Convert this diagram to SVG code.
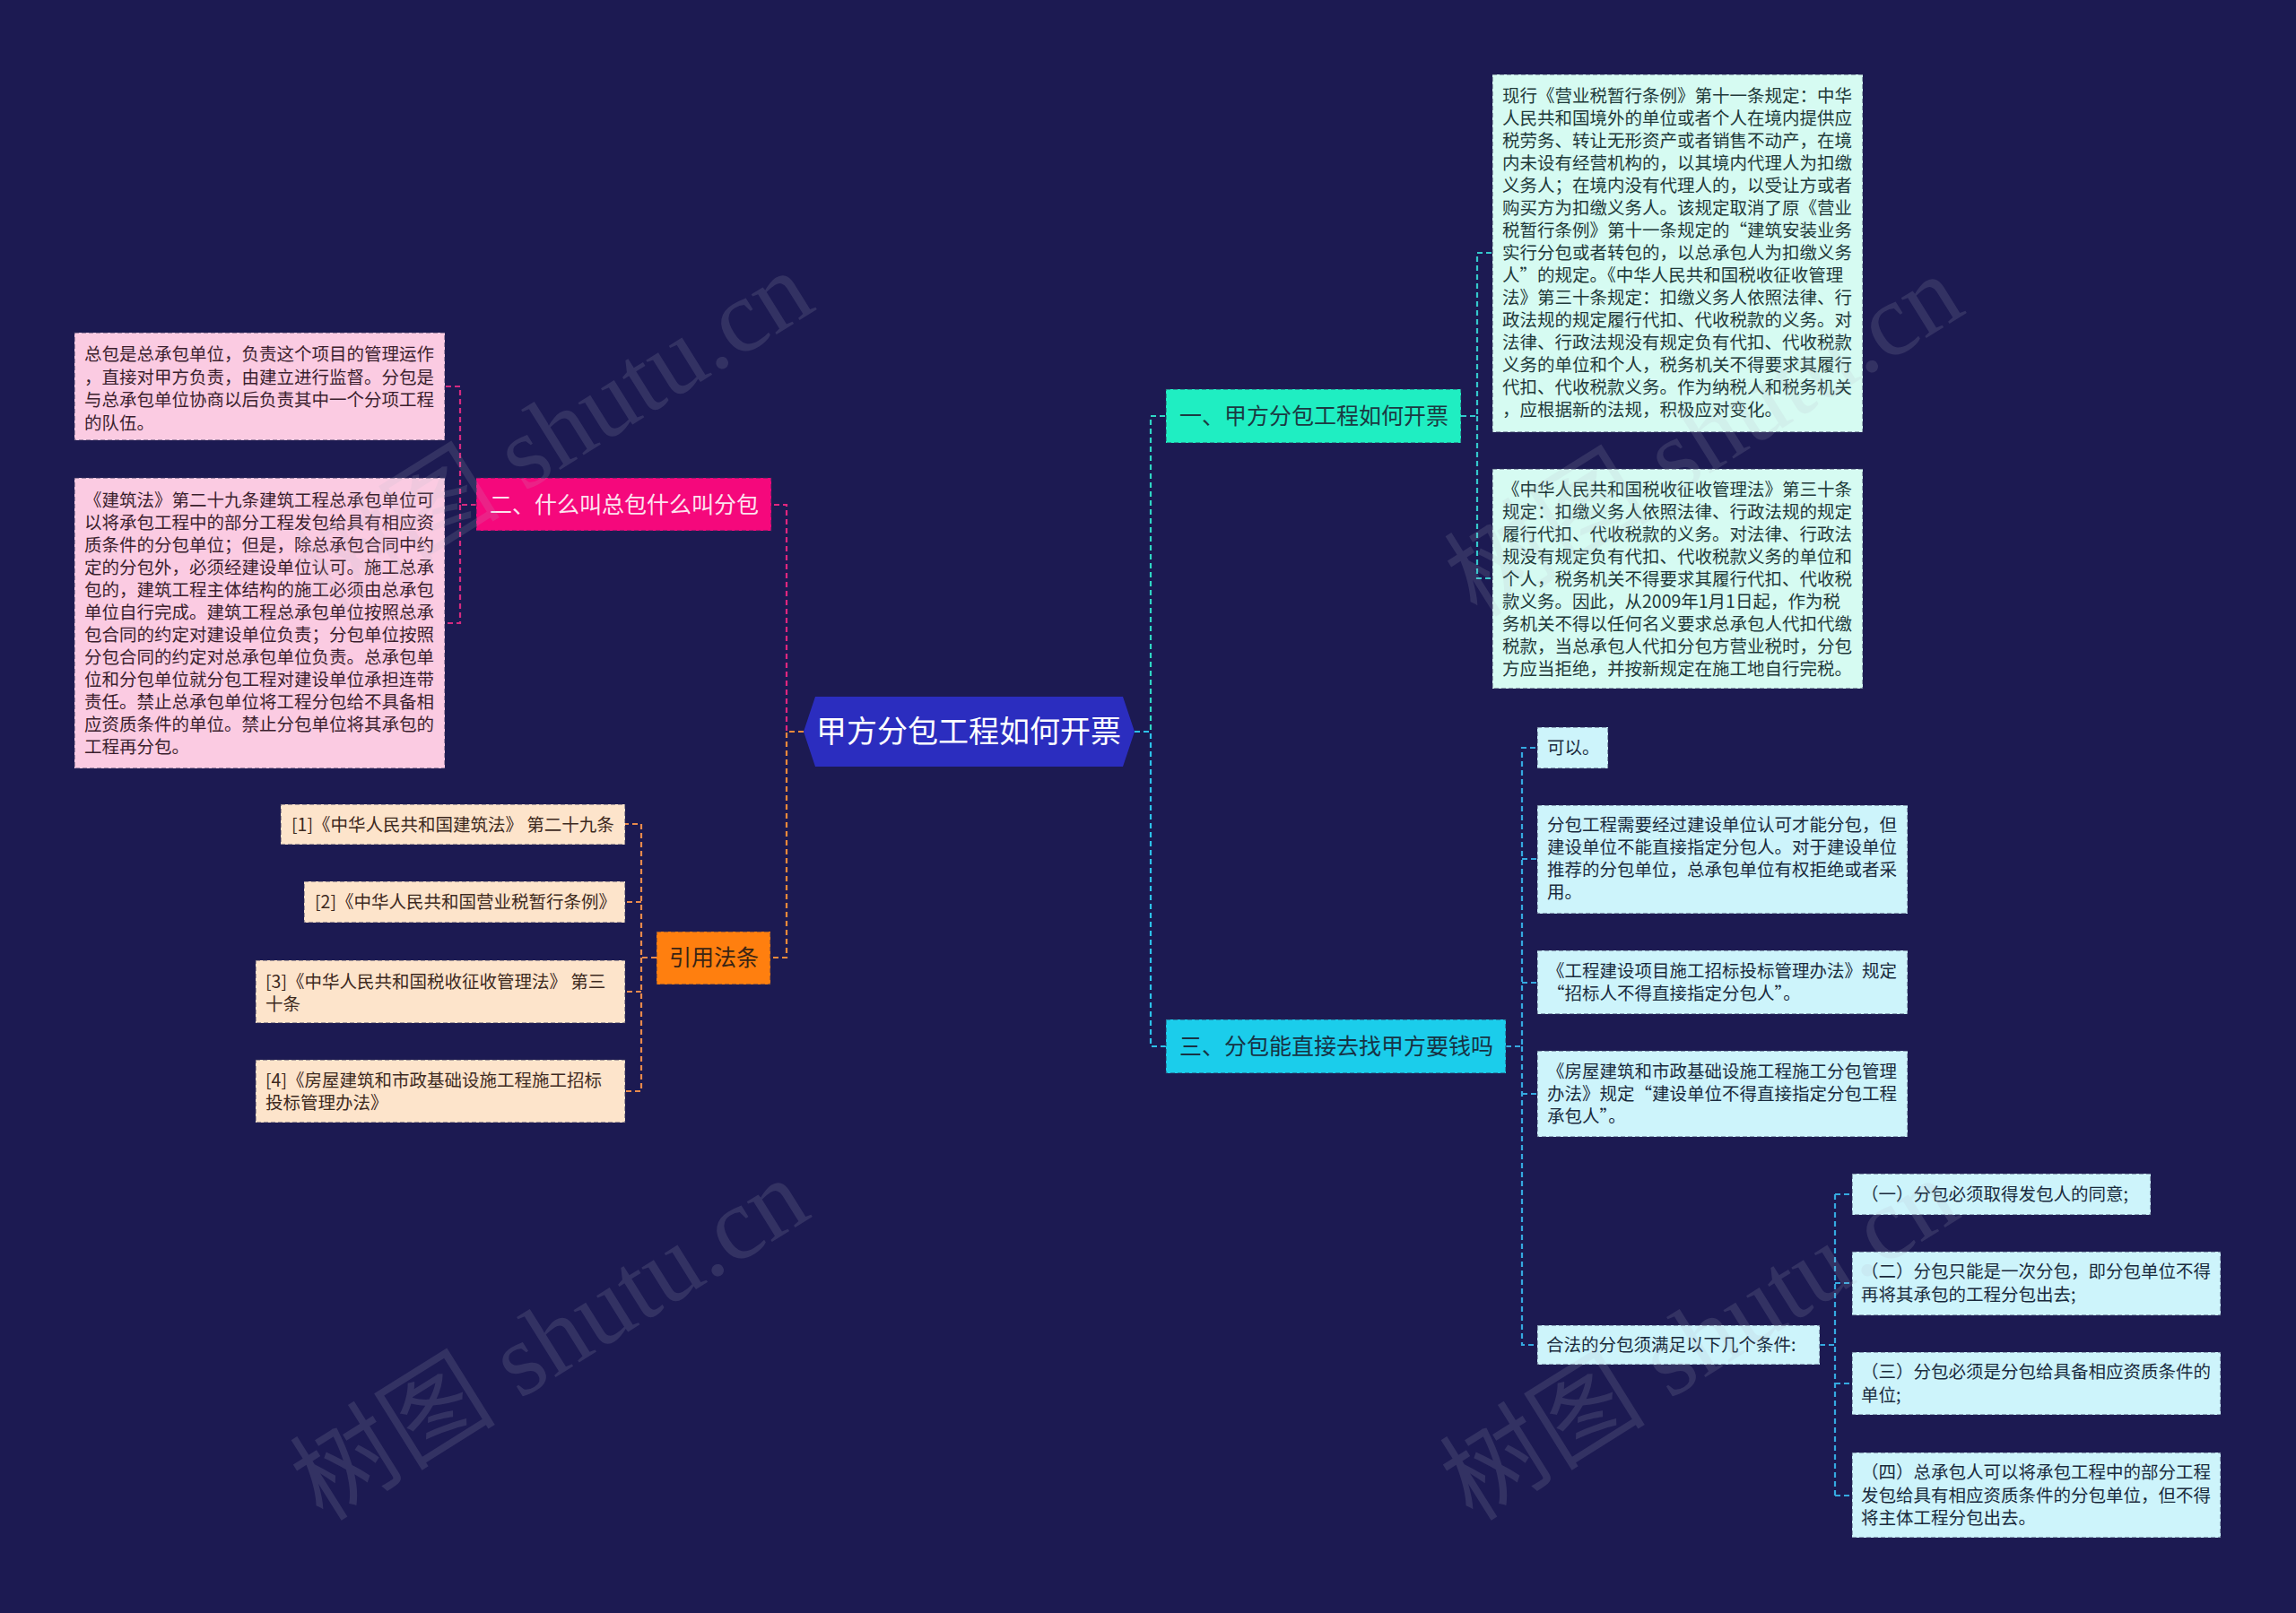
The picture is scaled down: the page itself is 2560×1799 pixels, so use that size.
<svg xmlns="http://www.w3.org/2000/svg" width="2560" height="1799" viewBox="0 0 2560 1799">
<style>
text{font-family:"Noto Sans CJK SC","Noto Sans",sans-serif;}
.leaf{font-size:19.5px;}
.br{font-size:25px;text-anchor:middle;}
.bx{stroke:#2a2a55;stroke-opacity:.55;stroke-width:1.5;stroke-dasharray:5 3;}
.c{fill:none;stroke-width:2.2;stroke-dasharray:6 4;}
.wm{font-family:"Liberation Serif","Noto Sans CJK SC",serif;font-size:115px;fill:#b8b8c8;opacity:.15;}
</style>
<rect width="2560" height="1799" fill="#1c1a52"/>
<g id="connectors">
<path class="c" stroke="#2fd6c4" d="M1265,816 H1283 V464 H1300"/>
<path class="c" stroke="#2cc2ea" d="M1265,816 H1283 V1167 H1300"/>
<path class="c" stroke="#34c8cc" d="M1629,464 H1647 V282 H1664 M1647,464 V645 H1664"/>
<path class="c" stroke="#35a9e0" d="M1679,1167 H1697 V834 H1714 M1697,958 H1714 M1697,1096 H1714 M1697,1220 H1714 M1697,1167 V1500 H1714"/>
<path class="c" stroke="#35a9e0" d="M2029,1500 H2046 M2046,1332 V1668 M2046,1332 H2065 M2046,1431 H2065 M2046,1543 H2065 M2046,1668 H2065"/>
<path class="c" stroke="#e0267f" d="M896,816 H877 V563 H860"/>
<path class="c" stroke="#f08a3a" d="M896,816 H877 V1068 H859"/>
<path class="c" stroke="#d42a80" d="M531,563 H513 V431 H496 M513,563 V695 H496"/>
<path class="c" stroke="#e88a4c" d="M732,1068 H715 V919 H697 M715,1006 H697 M715,1106 H697 M715,1068 V1217 H697"/>
</g>
<g id="root">
<polygon points="896,816 909,777 1252,777 1265,816 1252,855 909,855" fill="#2b2dbf"/>
<text x="1080" y="828" font-size="34" fill="#ffffff" text-anchor="middle">甲方分包工程如何开票</text>
</g>
<g id="branch1">
<rect class="bx" x="1300" y="434" width="329" height="60" fill="#1feec2"/>
<text class="br" x="1465" y="473" fill="#1b3a42">一、甲方分包工程如何开票</text>
</g>
<g id="branch3">
<rect class="bx" x="1300" y="1137" width="379" height="60" fill="#1bcdeb"/>
<text class="br" x="1490" y="1176" fill="#173244">三、分包能直接去找甲方要钱吗</text>
</g>
<g id="branch2">
<rect class="bx" x="531" y="533" width="329" height="59" fill="#f5087c"/>
<text class="br" x="696" y="572" fill="#fde2ef">二、什么叫总包什么叫分包</text>
</g>
<g id="branch4">
<rect class="bx" x="732" y="1039" width="127" height="59" fill="#ff7f0f"/>
<text class="br" x="796" y="1077" fill="#3a2414">引用法条</text>
</g>
<g id="leaf-a">
<rect class="bx" x="1664" y="83" width="413" height="399" fill="#d6fbf2"/>
<text class="leaf" fill="#1f3a3a">
<tspan x="1675" y="114">现行《营业税暂行条例》第十一条规定：中华</tspan>
<tspan x="1675" y="139">人民共和国境外的单位或者个人在境内提供应</tspan>
<tspan x="1675" y="164">税劳务、转让无形资产或者销售不动产，在境</tspan>
<tspan x="1675" y="189">内未设有经营机构的，以其境内代理人为扣缴</tspan>
<tspan x="1675" y="214">义务人；在境内没有代理人的，以受让方或者</tspan>
<tspan x="1675" y="239">购买方为扣缴义务人。该规定取消了原《营业</tspan>
<tspan x="1675" y="264">税暂行条例》第十一条规定的“建筑安装业务</tspan>
<tspan x="1675" y="289">实行分包或者转包的，以总承包人为扣缴义务</tspan>
<tspan x="1675" y="314">人”的规定。《中华人民共和国税收征收管理</tspan>
<tspan x="1675" y="339">法》第三十条规定：扣缴义务人依照法律、行</tspan>
<tspan x="1675" y="364">政法规的规定履行代扣、代收税款的义务。对</tspan>
<tspan x="1675" y="389">法律、行政法规没有规定负有代扣、代收税款</tspan>
<tspan x="1675" y="414">义务的单位和个人，税务机关不得要求其履行</tspan>
<tspan x="1675" y="439">代扣、代收税款义务。作为纳税人和税务机关</tspan>
<tspan x="1675" y="464">，应根据新的法规，积极应对变化。</tspan>
</text>
</g>
<g id="leaf-b">
<rect class="bx" x="1664" y="523" width="413" height="245" fill="#d6fbf2"/>
<text class="leaf" fill="#1f3a3a">
<tspan x="1675" y="553">《中华人民共和国税收征收管理法》第三十条</tspan>
<tspan x="1675" y="578">规定：扣缴义务人依照法律、行政法规的规定</tspan>
<tspan x="1675" y="603">履行代扣、代收税款的义务。对法律、行政法</tspan>
<tspan x="1675" y="628">规没有规定负有代扣、代收税款义务的单位和</tspan>
<tspan x="1675" y="653">个人，税务机关不得要求其履行代扣、代收税</tspan>
<tspan x="1675" y="678">款义务。因此，从2009年1月1日起，作为税</tspan>
<tspan x="1675" y="703">务机关不得以任何名义要求总承包人代扣代缴</tspan>
<tspan x="1675" y="728">税款，当总承包人代扣分包方营业税时，分包</tspan>
<tspan x="1675" y="753">方应当拒绝，并按新规定在施工地自行完税。</tspan>
</text>
</g>
<g id="leaf-p1">
<rect class="bx" x="83" y="371" width="413" height="120" fill="#fbcbe2"/>
<text class="leaf" fill="#3b1f2e">
<tspan x="94" y="402">总包是总承包单位，负责这个项目的管理运作</tspan>
<tspan x="94" y="428">，直接对甲方负责，由建立进行监督。分包是</tspan>
<tspan x="94" y="453">与总承包单位协商以后负责其中一个分项工程</tspan>
<tspan x="94" y="479">的队伍。</tspan>
</text>
</g>
<g id="leaf-p2">
<rect class="bx" x="83" y="533" width="413" height="324" fill="#fbcbe2"/>
<text class="leaf" fill="#3b1f2e">
<tspan x="94" y="565">《建筑法》第二十九条建筑工程总承包单位可</tspan>
<tspan x="94" y="590">以将承包工程中的部分工程发包给具有相应资</tspan>
<tspan x="94" y="615">质条件的分包单位；但是，除总承包合同中约</tspan>
<tspan x="94" y="640">定的分包外，必须经建设单位认可。施工总承</tspan>
<tspan x="94" y="665">包的，建筑工程主体结构的施工必须由总承包</tspan>
<tspan x="94" y="690">单位自行完成。建筑工程总承包单位按照总承</tspan>
<tspan x="94" y="715">包合同的约定对建设单位负责；分包单位按照</tspan>
<tspan x="94" y="740">分包合同的约定对总承包单位负责。总承包单</tspan>
<tspan x="94" y="765">位和分包单位就分包工程对建设单位承担连带</tspan>
<tspan x="94" y="790">责任。禁止总承包单位将工程分包给不具备相</tspan>
<tspan x="94" y="815">应资质条件的单位。禁止分包单位将其承包的</tspan>
<tspan x="94" y="840">工程再分包。</tspan>
</text>
</g>
<g id="ref-1">
<rect class="bx" x="313" y="897" width="384" height="45" fill="#fde4cb"/>
<text class="leaf" fill="#3d2a1e" x="325" y="927">[1]《中华人民共和国建筑法》 第二十九条</text>
</g>
<g id="ref-2">
<rect class="bx" x="339" y="983" width="358" height="46" fill="#fde4cb"/>
<text class="leaf" fill="#3d2a1e" x="351" y="1013">[2]《中华人民共和国营业税暂行条例》</text>
</g>
<g id="ref-3">
<rect class="bx" x="285" y="1071" width="412" height="70" fill="#fde4cb"/>
<text class="leaf" fill="#3d2a1e"><tspan x="296" y="1102">[3]《中华人民共和国税收征收管理法》 第三</tspan><tspan x="296" y="1127">十条</tspan></text>
</g>
<g id="ref-4">
<rect class="bx" x="285" y="1182" width="412" height="70" fill="#fde4cb"/>
<text class="leaf" fill="#3d2a1e"><tspan x="296" y="1212">[4]《房屋建筑和市政基础设施工程施工招标</tspan><tspan x="296" y="1237">投标管理办法》</tspan></text>
</g>
<g id="leaf-c1">
<rect class="bx" x="1714" y="811" width="79" height="46" fill="#cdf4fb"/>
<text class="leaf" fill="#1a2b3d" x="1725" y="841">可以。</text>
</g>
<g id="leaf-c2">
<rect class="bx" x="1714" y="898" width="413" height="121" fill="#cdf4fb"/>
<text class="leaf" fill="#1a2b3d">
<tspan x="1725" y="927">分包工程需要经过建设单位认可才能分包，但</tspan>
<tspan x="1725" y="952">建设单位不能直接指定分包人。对于建设单位</tspan>
<tspan x="1725" y="977">推荐的分包单位，总承包单位有权拒绝或者采</tspan>
<tspan x="1725" y="1002">用。</tspan>
</text>
</g>
<g id="leaf-c3">
<rect class="bx" x="1714" y="1060" width="413" height="71" fill="#cdf4fb"/>
<text class="leaf" fill="#1a2b3d">
<tspan x="1725" y="1090">《工程建设项目施工招标投标管理办法》规定</tspan>
<tspan x="1725" y="1115">“招标人不得直接指定分包人”。</tspan>
</text>
</g>
<g id="leaf-c4">
<rect class="bx" x="1714" y="1172" width="413" height="96" fill="#cdf4fb"/>
<text class="leaf" fill="#1a2b3d">
<tspan x="1725" y="1202">《房屋建筑和市政基础设施工程施工分包管理</tspan>
<tspan x="1725" y="1227">办法》规定“建设单位不得直接指定分包工程</tspan>
<tspan x="1725" y="1252">承包人”。</tspan>
</text>
</g>
<g id="leaf-c5">
<rect class="bx" x="1714" y="1478" width="315" height="44" fill="#cdf4fb"/>
<text class="leaf" fill="#1a2b3d" x="1724" y="1507">合法的分包须满足以下几个条件:</text>
</g>
<g id="cond-1">
<rect class="bx" x="2065" y="1309" width="333" height="46" fill="#cdf4fb"/>
<text class="leaf" fill="#1a2b3d" x="2075" y="1339">（一）分包必须取得发包人的同意;</text>
</g>
<g id="cond-2">
<rect class="bx" x="2065" y="1396" width="411" height="71" fill="#cdf4fb"/>
<text class="leaf" fill="#1a2b3d"><tspan x="2075" y="1425">（二）分包只能是一次分包，即分包单位不得</tspan><tspan x="2075" y="1451">再将其承包的工程分包出去;</tspan></text>
</g>
<g id="cond-3">
<rect class="bx" x="2065" y="1508" width="411" height="70" fill="#cdf4fb"/>
<text class="leaf" fill="#1a2b3d"><tspan x="2075" y="1537">（三）分包必须是分包给具备相应资质条件的</tspan><tspan x="2075" y="1563">单位;</tspan></text>
</g>
<g id="cond-4">
<rect class="bx" x="2065" y="1620" width="411" height="95" fill="#cdf4fb"/>
<text class="leaf" fill="#1a2b3d"><tspan x="2075" y="1649">（四）总承包人可以将承包工程中的部分工程</tspan><tspan x="2075" y="1675">发包给具有相应资质条件的分包单位，但不得</tspan><tspan x="2075" y="1700">将主体工程分包出去。</tspan></text>
</g>
<g id="watermarks">
<text class="wm" transform="translate(365,686) rotate(-32)">树图 shutu.cn</text>
<text class="wm" transform="translate(1647,690) rotate(-32)">树图 shutu.cn</text>
<text class="wm" transform="translate(360,1698) rotate(-32)">树图 shutu.cn</text>
<text class="wm" transform="translate(1642,1698) rotate(-32)">树图 shutu.cn</text>
</g>
</svg>
